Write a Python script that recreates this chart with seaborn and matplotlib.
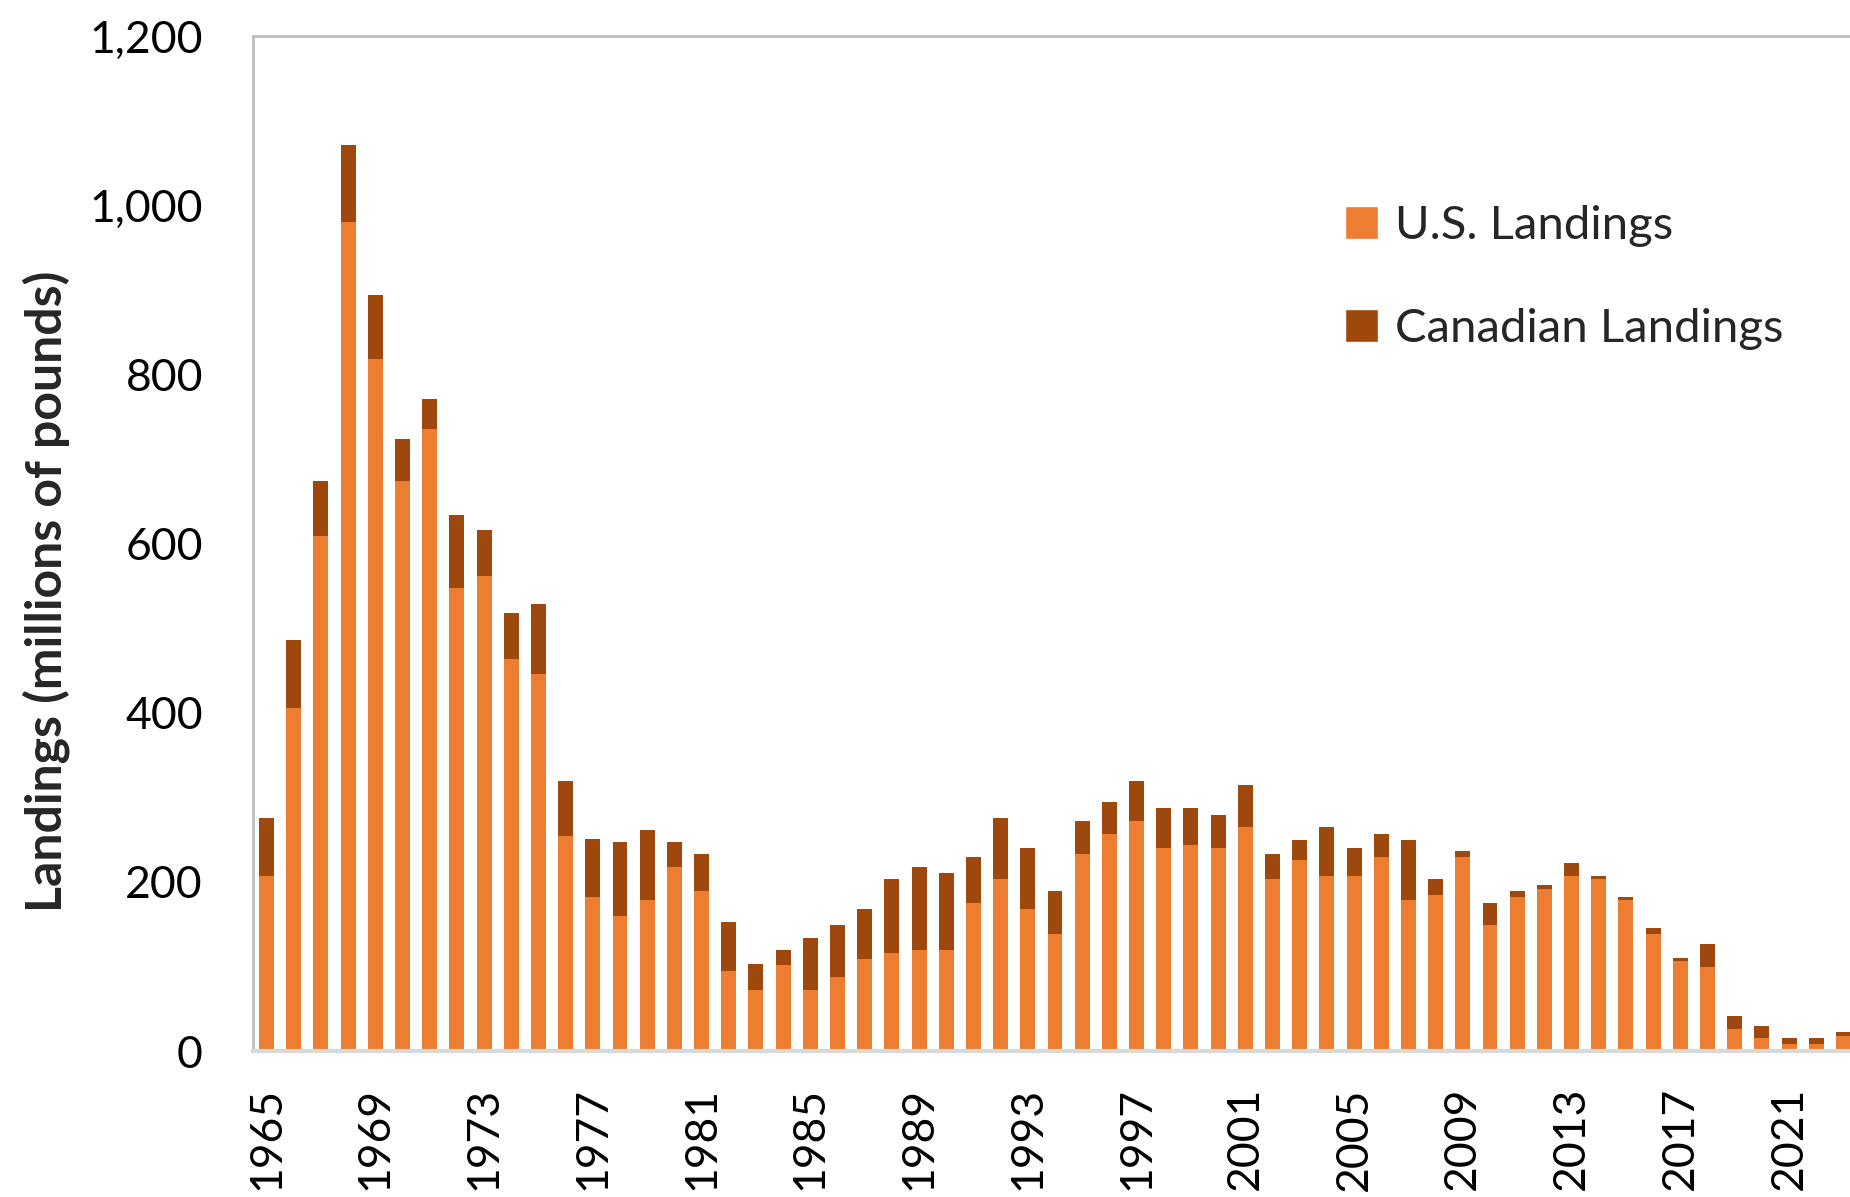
import numpy as np
import pandas as pd
import matplotlib
matplotlib.use("Agg")
import matplotlib.pyplot as plt
import seaborn as sns
from matplotlib.patches import Patch

# landings in millions of pounds
years = list(range(1965, 2024))
us_landings = [
    207, 405, 609, 980, 818, 674, 735, 547, 561, 463,
    446, 254, 182, 160, 178, 217, 189, 95, 72, 102,
    72, 87, 109, 116, 120, 120, 175, 203, 168, 138,
    233, 257, 272, 240, 243, 240, 265, 203, 226, 207,
    207, 229, 178, 185, 229, 149, 182, 192, 207, 203,
    178, 138, 106, 99, 26, 15, 8, 8, 18,
]
canadian_landings = [
    68, 81, 65, 91, 76, 49, 36, 87, 55, 55,
    82, 65, 69, 87, 83, 30, 44, 57, 31, 18,
    62, 62, 59, 87, 97, 90, 54, 72, 72, 51,
    39, 37, 47, 47, 44, 39, 50, 30, 24, 58,
    33, 28, 72, 18, 7, 26, 7, 4, 15, 4,
    4, 7, 4, 28, 15, 14, 7, 7, 4,
]
y_ticks = [0, 200, 400, 600, 800, 1000, 1200]

US_COLOR = "#ED7D31"
CA_COLOR = "#9E480E"

df = pd.DataFrame({
    "Year": [str(y) for y in years],
    "US": us_landings,
    "Canada": canadian_landings,
})
df["Total"] = df["US"] + df["Canada"]

sns.set_style("white")
plt.rcParams["font.family"] = ["Lato", "DejaVu Sans"]

fig = plt.figure(figsize=(18.5, 11.97), dpi=100)
ax = fig.add_axes([253 / 1850, 1 - 1051 / 1197, (1857 - 253) / 1850, (1051 - 36) / 1197])

# stacked bars: draw totals first, then US portion on top
sns.barplot(data=df, x="Year", y="Total", color=CA_COLOR, saturation=1,
            width=0.55, linewidth=0, ax=ax)
sns.barplot(data=df, x="Year", y="US", color=US_COLOR, saturation=1,
            width=0.55, linewidth=0, ax=ax)

ax.set_xlim(-0.5, len(years) - 0.5)
ax.set_ylim(0, 1200)
ax.set_yticks(y_ticks)
ax.set_yticklabels([f"{v:,}" for v in y_ticks])
ax.set_xticks(range(0, len(years), 4))
ax.set_xticklabels([str(y) for y in years[::4]], rotation=90)
ax.tick_params(axis="y", length=0, pad=36, labelsize=32, labelcolor="black")
ax.tick_params(axis="x", length=0, pad=26, labelsize=32, labelcolor="black")
for lbl in ax.get_xticklabels():
    lbl.set_verticalalignment("top")

ax.set_xlabel("")
ax.set_ylabel("")
fig.text(46 / 1850, 1 - 591 / 1197, "Landings (millions of pounds)",
         rotation=90, ha="center", va="center", fontsize=36, fontweight="bold")

for side in ["left", "top"]:
    ax.spines[side].set_color("#BFBFBF")
    ax.spines[side].set_linewidth(2)
ax.spines["right"].set_visible(False)
ax.spines["bottom"].set_color("#D9D9D9")
ax.spines["bottom"].set_linewidth(3)

handles = [Patch(facecolor=US_COLOR, label="U.S. Landings"),
           Patch(facecolor=CA_COLOR, label="Canadian Landings")]
fig.legend(handles=handles, loc="upper left",
           bbox_to_anchor=(1345 / 1850, 1 - 205 / 1197),
           frameon=False, fontsize=34, borderpad=0, borderaxespad=0,
           handlelength=0.7, handleheight=0.7, handletextpad=0.35,
           labelspacing=1.3)

fig.savefig("out.png", dpi=100)
